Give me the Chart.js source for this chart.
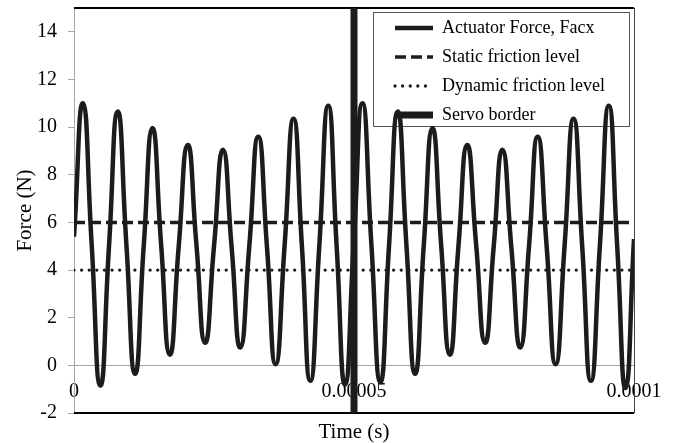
<!DOCTYPE html>
<html>
<head>
<meta charset="utf-8">
<script src="https://cdn.jsdelivr.net/npm/chart.js@4.4.1/dist/chart.umd.min.js"></script>
<style>
  html, body { margin: 0; padding: 0; background: #fff; }
  canvas { display: block; }
</style>
</head>
<body>
<canvas id="forceChart" width="675" height="443"></canvas>
<script>
// actuator force: peaks, troughs and the crossings in between
// time in microseconds, force in N
const timeUs = [
  0, 1.6, 3.15, 4.7, 6.25, 7.8, 9.35, 10.9, 12.45, 14.0, 15.55, 17.1, 18.7, 20.3, 21.85, 23.4,
  25.0, 26.6, 28.15, 29.7, 31.3, 32.9, 34.45, 36.0, 37.6, 39.2, 40.7, 42.2, 43.8, 45.4, 46.9, 48.4,
  49.95, 51.5, 53.1, 54.7, 56.25, 57.8, 59.35, 60.9, 62.45, 64.0, 65.55, 67.1, 68.65, 70.2, 71.8, 73.4,
  74.95, 76.5, 78.1, 79.7, 81.25, 82.8, 84.4, 86.0, 87.6, 89.2, 90.75, 92.3, 93.9, 95.5, 97.0, 98.5,
  100
];
const forceN = [
  5.4, 11.0, 5.1, -0.85, 5.0, 10.65, 5.1, -0.35, 5.0, 9.95, 5.1, 0.45, 5.0, 9.25, 5.1, 0.95,
  5.0, 9.05, 4.95, 0.75, 5.0, 9.6, 5.0, 0.05, 5.0, 10.35, 5.0, -0.65, 5.0, 10.9, 5.0, -0.8,
  5.1, 11.0, 5.1, -0.7, 5.0, 10.65, 5.1, -0.35, 5.0, 9.95, 5.1, 0.45, 5.0, 9.25, 5.1, 0.95,
  5.0, 9.05, 4.95, 0.75, 5.0, 9.6, 5.0, 0.05, 5.0, 10.35, 5.0, -0.65, 5.0, 10.9, 5.0, -0.95,
  5.3
];

const staticLevel = 6;
const dynamicLevel = 4;
const servoTime = 0.00005;
const timeRange = [0, 0.0001];
const forceRange = [-2, 15];

const xTickValues = [0, 0.00005, 0.0001];
const xTickLabels = ['0', '0.00005', '0.0001'];
const yTickValues = [-2, 0, 2, 4, 6, 8, 10, 12, 14];

const seriesNames = ['Actuator Force, Facx', 'Static friction level', 'Dynamic friction level', 'Servo border'];

const INK = '#1c1c1c';
const AXIS_GREY = '#a6a6a6';
// legend frame, top right inside the plot
const LEGEND_BOX = { left: 373.5, top: 12.5, width: 256, height: 114 };

Chart.defaults.font.family = "'Liberation Serif', 'Times New Roman', serif";
Chart.defaults.color = '#000';

const framePlugin = {
  id: 'frame',
  beforeDraw(chart) {
    const lg = chart.legend;
    if (!lg) return;
    lg.left = LEGEND_BOX.left + 10.5;
    lg.top = LEGEND_BOX.top - 4.5;
    lg.right = lg.left + 250;
    lg.bottom = lg.top + 170;
  },
  beforeDatasetsDraw(chart) {
    const { ctx, chartArea: a } = chart;
    ctx.save();
    ctx.strokeStyle = '#000';
    ctx.lineWidth = 2;
    ctx.beginPath();
    ctx.moveTo(a.left, a.top);
    ctx.lineTo(a.right, a.top);
    ctx.moveTo(a.left, a.bottom);
    ctx.lineTo(a.right, a.bottom);
    ctx.stroke();
    ctx.strokeStyle = '#444';
    ctx.lineWidth = 1;
    ctx.beginPath();
    ctx.moveTo(a.right + 0.5, a.top);
    ctx.lineTo(a.right + 0.5, a.bottom);
    ctx.stroke();
    ctx.strokeStyle = '#555';
    ctx.strokeRect(LEGEND_BOX.left, LEGEND_BOX.top, LEGEND_BOX.width, LEGEND_BOX.height);
    ctx.restore();
  }
};

const forcePoints = timeUs.map((t, i) => ({ x: t / 1e6, y: forceN[i] }));

new Chart(document.getElementById('forceChart'), {
  type: 'line',
  data: {
    datasets: [
      {
        label: seriesNames[0],
        data: forcePoints,
        borderColor: INK,
        borderWidth: 4.5,
        tension: 0.55,
        pointRadius: 0,
        order: 1
      },
      {
        label: seriesNames[1],
        data: timeRange.map(t => ({ x: t, y: staticLevel })),
        borderColor: INK,
        borderWidth: 3.5,
        borderDash: [11, 5],
        pointRadius: 0,
        order: 2
      },
      {
        label: seriesNames[2],
        data: timeRange.map(t => ({ x: t, y: dynamicLevel })),
        borderColor: INK,
        borderWidth: 3.3,
        borderDash: [0.01, 7.6],
        borderCapStyle: 'round',
        pointRadius: 0,
        order: 3
      },
      {
        label: seriesNames[3],
        data: forceRange.map(f => ({ x: servoTime, y: f })),
        borderColor: INK,
        borderWidth: 7,
        pointRadius: 0,
        order: 0
      }
    ]
  },
  options: {
    responsive: false,
    animation: false,
    devicePixelRatio: 1,
    layout: { padding: { left: 0, top: 8, right: 41, bottom: 30 } },
    plugins: {
      legend: {
        position: 'chartArea',
        align: 'start',
        labels: {
          usePointStyle: true,
          pointStyle: 'line',
          pointStyleWidth: 38,
          padding: 11,
          textAlign: 'left',
          color: '#000',
          font: { size: 18 },
          sort: (a, b) => a.datasetIndex - b.datasetIndex,
          // take the line look (dash, cap, width) from the dataset, not its points
          generateLabels(chart) {
            const items = Chart.defaults.plugins.legend.labels.generateLabels(chart);
            items.forEach(item => {
              const ds = chart.data.datasets[item.datasetIndex];
              item.lineDash = ds.borderDash || [];
              item.lineCap = ds.borderCapStyle || 'butt';
              item.lineWidth = ds.borderWidth;
              item.strokeStyle = ds.borderColor;
            });
            return items;
          }
        }
      },
      tooltip: { enabled: false }
    },
    scales: {
      x: {
        type: 'linear',
        position: { y: 0 },
        min: timeRange[0],
        max: timeRange[1],
        afterBuildTicks: s => { s.ticks = xTickValues.map(v => ({ value: v })); },
        afterFit: s => { s.height = 80; s.paddingLeft = 0; s.paddingRight = 0; },
        grid: { drawOnChartArea: false, drawTicks: false },
        border: { color: AXIS_GREY, width: 1 },
        ticks: {
          padding: 14,
          maxRotation: 0,
          autoSkip: false,
          font: { size: 20 },
          color: '#000',
          callback: (v, i) => xTickLabels[i]
        },
        title: { display: true, text: 'Time (s)', font: { size: 21 }, color: '#000', padding: { top: 0, bottom: 0 } }
      },
      y: {
        type: 'linear',
        min: forceRange[0],
        max: forceRange[1],
        afterBuildTicks: s => { s.ticks = yTickValues.map(v => ({ value: v })); },
        afterFit: s => { s.width = 74; s.paddingTop = 0; s.paddingBottom = 0; },
        grid: { drawOnChartArea: false, drawTicks: true, tickLength: 6, color: AXIS_GREY },
        border: { color: AXIS_GREY, width: 1 },
        ticks: { padding: 11, font: { size: 20 }, color: '#000' },
        title: { display: true, text: 'Force (N)', font: { size: 21 }, color: '#000', padding: { top: 13, bottom: 0 } }
      }
    }
  },
  plugins: [framePlugin]
});
</script>
</body>
</html>
